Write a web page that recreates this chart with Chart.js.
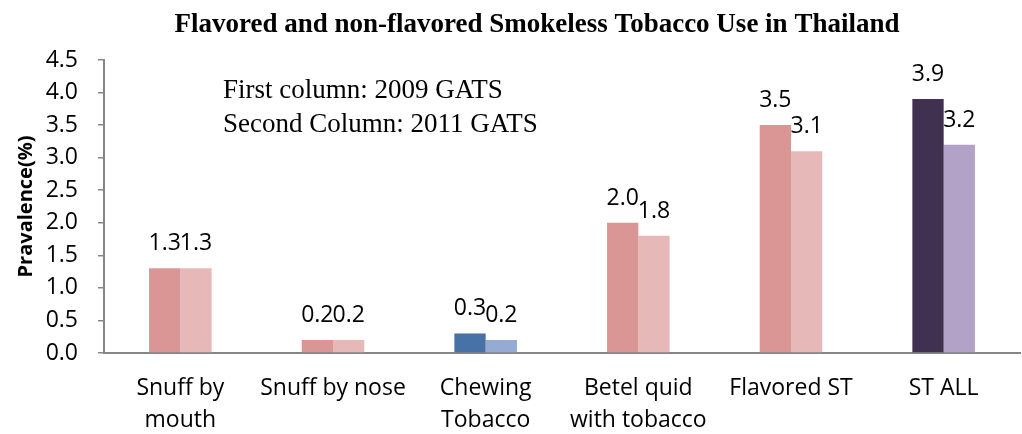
<!DOCTYPE html>
<html>
<head>
<meta charset="utf-8">
<script src="https://cdn.jsdelivr.net/npm/chart.js@4"></script>
<style>
  html, body { margin: 0; padding: 0; background: #fff; }
  #wrap { width: 1022px; height: 434px; }
</style>
</head>
<body>
<div id="wrap"><canvas id="chart"></canvas></div>
<script>
// ── Data ─────────────────────────────────────────────────────
const categories = [
    ['Snuff by', 'mouth'],
    'Snuff by nose',
    ['Chewing', 'Tobacco'],
    ['Betel quid', 'with tobacco'],
    'Flavored ST',
    'ST ALL'
];
const gats2009 = [1.3, 0.2, 0.3, 2.0, 3.5, 3.9];
const gats2011 = [1.3, 0.2, 0.2, 1.8, 3.1, 3.2];

// per-category colours (first / second column)
const colors2009 = ['#d99694', '#d99694', '#4672a8', '#d99694', '#d99694', '#403151'];
const colors2011 = ['#e6b9b8', '#e6b9b8', '#95abd3', '#e6b9b8', '#e6b9b8', '#b3a2c7'];

const SANS = '"Open Sans", sans-serif';
const SERIF = '"Liberation Serif", "Times New Roman", serif';

// ── Title + note text ────────────────────────────────────────
const textPlugin = {
    id: 'texts',
    afterDraw(chart) {
        const ctx = chart.ctx;
        ctx.save();
        ctx.fillStyle = '#000';
        ctx.textBaseline = 'alphabetic';
        ctx.textAlign = 'center';
        ctx.font = 'bold 27px ' + SERIF;
        ctx.fillText('Flavored and non-flavored Smokeless Tobacco Use in Thailand', 537, 32);
        ctx.textAlign = 'left';
        ctx.font = '27px ' + SERIF;
        ctx.fillText('First column: 2009 GATS', 223, 98);
        ctx.fillText('Second Column: 2011 GATS', 223, 132);
        ctx.restore();
    }
};

// ── Value labels above each bar ──────────────────────────────
const valueLabels = {
    id: 'valueLabels',
    afterDatasetsDraw(chart) {
        const ctx = chart.ctx;
        ctx.save();
        ctx.fillStyle = '#000';
        ctx.font = '23px ' + SANS;
        ctx.textAlign = 'center';
        ctx.textBaseline = 'alphabetic';
        chart.data.datasets.forEach((ds, i) => {
            chart.getDatasetMeta(i).data.forEach((bar, j) => {
                ctx.fillText(ds.data[j].toFixed(1), bar.x, bar.y - 18);
            });
        });
        ctx.restore();
    }
};

new Chart(document.getElementById('chart'), {
    type: 'bar',
    data: {
        labels: categories,
        datasets: [
            { label: '2009 GATS', data: gats2009, backgroundColor: colors2009 },
            { label: '2011 GATS', data: gats2011, backgroundColor: colors2011 }
        ]
    },
    options: {
        responsive: true,
        maintainAspectRatio: false,
        animation: false,
        categoryPercentage: 0.41,
        barPercentage: 1.0,
        layout: { padding: { top: 60, right: 2, left: 0, bottom: 0 } },
        plugins: {
            legend: { display: false },
            tooltip: { enabled: false }
        },
        scales: {
            x: {
                grid: { display: false },
                border: { display: true, color: '#868686', width: 2 },
                ticks: {
                    color: '#000',
                    font: { family: SANS, size: 23, lineHeight: 1.4 },
                    padding: 11,
                    maxRotation: 0
                },
                afterFit: (s) => { s.height = 81; }
            },
            y: {
                min: 0, max: 4.5,
                grid: {
                    display: true,
                    drawOnChartArea: false,
                    drawTicks: true,
                    tickLength: 6,
                    color: '#868686',
                    lineWidth: 1.5
                },
                border: { display: true, color: '#868686', width: 2 },
                ticks: {
                    stepSize: 0.5,
                    color: '#000',
                    padding: 20,
                    font: { family: SANS, size: 23 },
                    callback: (v) => v.toFixed(1)
                },
                title: {
                    display: true,
                    text: 'Pravalence(%)',
                    color: '#000',
                    font: { family: SANS, size: 20, weight: 'bold' },
                    padding: { top: 14, bottom: 0 }
                },
                afterFit: (s) => { s.width = 104; }
            }
        }
    },
    plugins: [textPlugin, valueLabels]
});
</script>
</body>
</html>
